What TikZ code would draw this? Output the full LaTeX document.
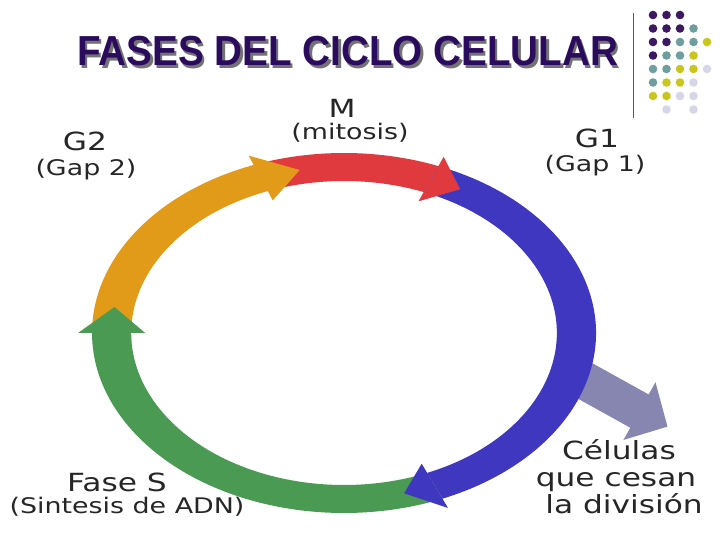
\documentclass[tikz,border=0pt]{standalone}
\usepackage{fontspec}
\newfontfamily\titlefont[FakeStretch=0.92]{Liberation Sans}
\newfontfamily\labelfont[FakeStretch=1.25]{DejaVu Sans}
\definecolor{titlepurple}{HTML}{2B0B5E}
\definecolor{phasered}{HTML}{E03A3E}
\definecolor{phaseblue}{HTML}{3F37BF}
\definecolor{phasegreen}{HTML}{4B9A53}
\definecolor{phaseorange}{HTML}{E29B18}
\definecolor{exitgrey}{HTML}{8686B0}
\definecolor{dotpurple}{HTML}{3B1860}
\definecolor{dotteal}{HTML}{6F9E9E}
\definecolor{dotyellow}{HTML}{C9C61E}
\definecolor{dotlilac}{HTML}{D6D6E8}
\newcommand{\shadowed}[1]{\rlap{\hspace{2.5pt}\raisebox{-2.5pt}{\color{black!55}#1}}#1}

\begin{document}
\begin{tikzpicture}[x=1pt,y=1pt,
    phase/.style={anchor=base,inner sep=0pt,text=black!85,%
      font=\labelfont\fontsize{25}{25}\selectfont},
    note/.style={anchor=base,inner sep=0pt,text=black!85,%
      font=\labelfont\fontsize{21.5}{21.5}\selectfont},
    headline/.style={anchor=base west,inner sep=0pt,%
      font=\titlefont\bfseries\fontsize{42}{42}\selectfont}]
  \useasboundingbox (0,0) rectangle (728,546) ;
  % title with its shadow
  \node[headline,text=titlepurple] (title) at (77,480) {\shadowed{FASES DEL CICLO CELULAR}} ;
  % corner decoration
  \draw[gray!70!black,line width=0.8pt] (633,533) -- (633,428) ;
  \foreach \c/\r in {0/0,1/0,2/0,0/1,1/1,2/1,0/2,1/2,0/3}
    \fill[dotpurple] (653+13.5*\c,531-13.5*\r) circle (4.3) ;
  \foreach \c/\r in {3/1,2/2,3/2,1/3,2/3,0/4,1/4,0/5}
    \fill[dotteal] (653+13.5*\c,531-13.5*\r) circle (4.3) ;
  \foreach \c/\r in {4/2,3/3,2/4,3/4,1/5,2/5,0/6,1/6}
    \fill[dotyellow] (653+13.5*\c,531-13.5*\r) circle (4.3) ;
  \foreach \c/\r in {4/4,3/5,2/6,3/6,1/7,3/7}
    \fill[dotlilac] (653+13.5*\c,531-13.5*\r) circle (4.3) ;
  % cells leaving the cycle
  \begin{scope}[shift={(587,164)},rotate=-29]
    \fill[exitgrey] (-12,19) -- (60,19) -- (60,33) -- (92,0) -- (60,-33) %
      -- (60,-19) -- (-12,-19) -- cycle ;
  \end{scope}
  % the cycle: bodies first, heads on top
  \begin{scope}[shift={(344,213)},xscale=1.4]
    \fill[phasered] (111:180) arc[start angle=111,end angle=68,radius=180] %
      -- (68:152) arc[start angle=68,end angle=111,radius=152] -- cycle ;
    \fill[phaseblue] (68:180) arc[start angle=68,end angle=-67,radius=180] %
      -- (-67:152) arc[start angle=-67,end angle=68,radius=152] -- cycle ;
    \fill[phasegreen] (-67:180) arc[start angle=-67,end angle=-180,radius=180] %
      -- (-180:152) arc[start angle=-180,end angle=-67,radius=152] -- cycle ;
    \fill[phaseorange] (180:180) arc[start angle=180,end angle=111,radius=180] %
      -- (111:152) arc[start angle=111,end angle=180,radius=152] -- cycle ;
    \fill[phasered] (68:190) -- (60:166) -- (68:142) -- cycle ;
    \fill[phaseblue] (-67:190) -- (-75:166) -- (-67:142) -- cycle ;
    \fill[phasegreen] (180:190) -- (171:166) -- (180:142) -- cycle ;
    \fill[phaseorange] (111:190) -- (101:166) -- (111:142) -- cycle ;
  \end{scope}
  % labels
  \node[phase] (mname) at (342,428) {M} ;
  \node[note] (mnote) at (350,406) {(mitosis)} ;
  \node[phase] (gonename) at (597,398) {G1} ;
  \node[note] (gonenote) at (595,374) {(Gap 1)} ;
  \node[phase] (gtwoname) at (85,395) {G2} ;
  \node[note] (gtwonote) at (86,370) {(Gap 2)} ;
  \node[phase] (sname) at (117,54) {Fase S} ;
  \node[note] (snote) at (127,32) {(Sintesis de ADN)} ;
  \node[phase] (exitone) at (619,86) {Células} ;
  \node[phase] (exittwo) at (616,59) {que cesan} ;
  \node[phase] (exitthree) at (624,32) {la división} ;
\end{tikzpicture}
\end{document}
